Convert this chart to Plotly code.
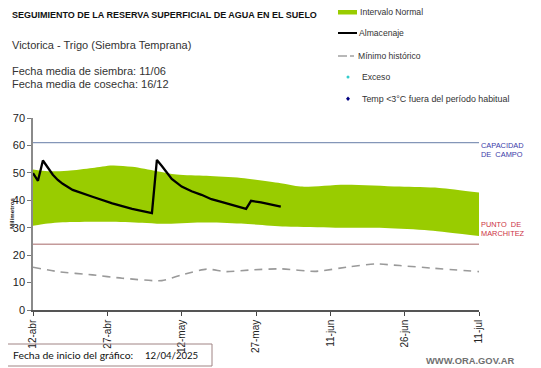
import plotly.graph_objects as go

# ---------------- data ----------------
alm_dates = ["2025-04-12", "2025-04-13", "2025-04-14", "2025-04-15", "2025-04-16", "2025-04-17",
             "2025-04-18", "2025-04-20", "2025-04-22", "2025-04-24", "2025-04-28", "2025-05-02",
             "2025-05-06", "2025-05-07", "2025-05-08", "2025-05-09", "2025-05-10", "2025-05-12",
             "2025-05-14", "2025-05-16", "2025-05-18", "2025-05-20", "2025-05-22", "2025-05-25",
             "2025-05-26", "2025-05-28", "2025-06-01"]
alm_vals = [49.9, 47.1, 54.5, 51.7, 49.3, 47.4,
            46.0, 43.8, 42.5, 41.3, 38.9, 36.9,
            35.3, 54.7, 52.5, 50.0, 47.8, 45.0,
            43.3, 42.0, 40.4, 39.4, 38.4, 36.9,
            39.8, 39.2, 37.7]

band_up_dates = ["2025-04-12", "2025-04-15", "2025-04-19", "2025-04-24", "2025-04-28", "2025-05-02",
                 "2025-05-07", "2025-05-11", "2025-05-17", "2025-05-24", "2025-06-01", "2025-06-05",
                 "2025-06-14", "2025-06-25", "2025-07-03", "2025-07-11"]
band_up_vals = [51.2, 50.6, 50.8, 51.8, 52.7, 52.2,
                50.6, 49.4, 48.9, 48.1, 46.2, 45.0,
                45.7, 45.0, 44.5, 42.8]

band_lo_dates = ["2025-04-12", "2025-04-15", "2025-04-18", "2025-04-27", "2025-05-04", "2025-05-08",
                 "2025-05-16", "2025-05-24", "2025-06-02", "2025-06-12", "2025-06-22", "2025-07-01",
                 "2025-07-11"]
band_lo_vals = [30.7, 31.5, 32.0, 32.2, 31.8, 31.4,
                31.9, 31.5, 30.4, 30.0, 29.9, 29.0,
                27.0]

min_dates = ["2025-04-12", "2025-04-17", "2025-04-24", "2025-04-30", "2025-05-08", "2025-05-12",
             "2025-05-17", "2025-05-21", "2025-05-26", "2025-06-01", "2025-06-08", "2025-06-15",
             "2025-06-20", "2025-06-25", "2025-07-02", "2025-07-11"]
min_vals = [15.6, 14.0, 12.8, 11.6, 10.7, 12.8,
            14.9, 14.0, 14.6, 15.0, 14.1, 15.8,
            16.8, 16.2, 15.2, 14.0]

capacidad_campo = 61
punto_marchitez = 24

x_start = "2025-04-12"
x_end = "2025-07-11"
tick_dates = ["2025-04-12", "2025-04-27", "2025-05-12", "2025-05-27", "2025-06-11", "2025-06-26", "2025-07-11"]
tick_labels = ["12-abr", "27-abr", "12-may", "27-may", "11-jun", "26-jun", "11-jul"]
y_ticks = [0, 10, 20, 30, 40, 50, 60, 70]

# ---------------- layout helpers ----------------
# the page body has an 8px margin; all positions below are in window pixels
OFF = 8
W, H = 541 - OFF, 368 - OFF
L, R, T, B = 33, 479, 118, 310


def px(x):
    return (x - L) / (R - L)


def py(y):
    return (B - y) / (B - T)


FONT = "Liberation Sans, Arial, sans-serif"

fig = go.Figure()

# normal interval band
fig.add_trace(go.Scatter(x=band_lo_dates, y=band_lo_vals, mode="lines",
                         line=dict(width=0, color="#99cc00", shape="spline", smoothing=0.8),
                         hoverinfo="skip", showlegend=False))
fig.add_trace(go.Scatter(x=band_up_dates, y=band_up_vals, mode="lines", fill="tonexty",
                         fillcolor="#99cc00",
                         line=dict(width=0, color="#99cc00", shape="spline", smoothing=0.8),
                         showlegend=False))

# reference lines
fig.add_trace(go.Scatter(x=[x_start, x_end], y=[capacidad_campo] * 2, mode="lines",
                         line=dict(color="#8496b8", width=1.2), showlegend=False))
fig.add_trace(go.Scatter(x=[x_start, x_end], y=[punto_marchitez] * 2, mode="lines",
                         line=dict(color="#c49a9a", width=1.5), showlegend=False))

# historical minimum
fig.add_trace(go.Scatter(x=min_dates, y=min_vals, mode="lines",
                         line=dict(color="#9a9a9a", width=1.6, dash="8px,6px", shape="spline", smoothing=0.6),
                         showlegend=False))

# storage
fig.add_trace(go.Scatter(x=alm_dates, y=alm_vals, mode="lines",
                         line=dict(color="#000000", width=2.3), showlegend=False))

shapes = []
annotations = []


def txt(x, y, s, size, color="#222", xanchor="left", family=FONT, angle=0):
    annotations.append(dict(x=px(x), y=py(y), xref="paper", yref="paper", text=s,
                            showarrow=False, xanchor=xanchor, yanchor="middle", textangle=angle,
                            borderpad=0,
                            font=dict(size=size, color=color, family=family)))


# header texts
txt(11, 15, "<b>SEGUIMIENTO DE LA RESERVA SUPERFICIAL DE AGUA EN EL SUELO</b>", 9, "#111")
txt(11, 45, "Victorica - Trigo (Siembra Temprana)", 11, "#333")
txt(11, 71, "Fecha media de siembra: 11/06", 11, "#333")
txt(11, 84, "Fecha media de cosecha: 16/12", 11, "#333")

# legend
LEG = 8.6
shapes.append(dict(type="rect", xref="paper", yref="paper", x0=px(338), x1=px(357), y0=py(10), y1=py(14.5),
                   fillcolor="#99cc00", line=dict(width=0)))
txt(359, 12, "Intervalo Normal", LEG, "#333")
shapes.append(dict(type="line", xref="paper", yref="paper", x0=px(338), x1=px(357), y0=py(33), y1=py(33),
                   line=dict(color="#000", width=2)))
txt(358, 33, "Almacenaje", LEG, "#333")
shapes.append(dict(type="line", xref="paper", yref="paper", x0=px(338), x1=px(347), y0=py(56), y1=py(56),
                   line=dict(color="#a0a0a0", width=1.5)))
shapes.append(dict(type="line", xref="paper", yref="paper", x0=px(350), x1=px(354), y0=py(56), y1=py(56),
                   line=dict(color="#a0a0a0", width=1.5)))
txt(357, 55.5, "Mínimo histórico", LEG, "#333")
shapes.append(dict(type="circle", xref="paper", yref="paper", x0=px(346.5), x1=px(349.5), y0=py(75.5), y1=py(78.5),
                   fillcolor="#33cccc", line=dict(width=0)))
txt(361, 77, "Exceso", LEG, "#333")
shapes.append(dict(type="path", xref="paper", yref="paper",
                   path="M {a},{b} L {c},{d} L {a},{e} L {f},{d} Z".format(
                       a=px(348), b=py(96.5), c=px(350), d=py(98.7), e=py(101), f=px(346)),
                   fillcolor="#000080", line=dict(width=0)))
txt(361, 98.5, "Temp &lt;3°C fuera del período habitual", 8.9, "#333")

# right side labels
txt(480, 145, "CAPACIDAD", 7.4, "#3a3aa8")
txt(480, 154, "DE  CAMPO", 7.4, "#3a3aa8")
txt(480, 224, "PUNTO  DE", 7.4, "#cc3344")
txt(480, 233, "MARCHITEZ", 7.4, "#cc3344")

# y axis title
txt(11, 213, "<b>Milímetros</b>", 6.2, "#222", xanchor="center", angle=-90)

# bottom box
shapes.append(dict(type="rect", xref="paper", yref="paper", x0=px(6), x1=px(212), y0=py(344), y1=py(366),
                   line=dict(color="#a08484", width=1), fillcolor="rgba(0,0,0,0)"))
txt(12, 355, "Fecha de inicio del gráfico:", 10.4, "#111", family="Lato, Carlito, sans-serif")
txt(144, 355, "12/04/2025", 9.6, "#111", family="Lato, Carlito, sans-serif")

# website
txt(425, 360, "<b>WWW.ORA.GOV.AR</b>", 9.4, "#707070")

fig.update_layout(
    width=W, height=H,
    margin=dict(l=L - OFF, r=541 - R, t=T - OFF, b=368 - B, pad=0),
    paper_bgcolor="white", plot_bgcolor="white",
    font=dict(family=FONT, color="#222"),
    shapes=shapes, annotations=annotations,
    showlegend=False,
)
fig.update_xaxes(type="date", range=[x_start, x_end], tickvals=tick_dates, ticktext=tick_labels,
                 tickangle=-90, ticks="outside", ticklen=4, tickcolor="#444", showgrid=False,
                 showline=True, linecolor="#555", linewidth=1.5, zeroline=False, automargin=False,
                 tickfont=dict(size=10, color="#222"))
fig.update_yaxes(range=[0, 70], tickvals=y_ticks, ticks="outside", ticklen=4, tickcolor="#777",
                 showgrid=False, showline=True, linecolor="#8a8a8a", linewidth=1.5, zeroline=False,
                 automargin=False, tickfont=dict(size=11, color="#222"))

fig.write_html("out.html")
